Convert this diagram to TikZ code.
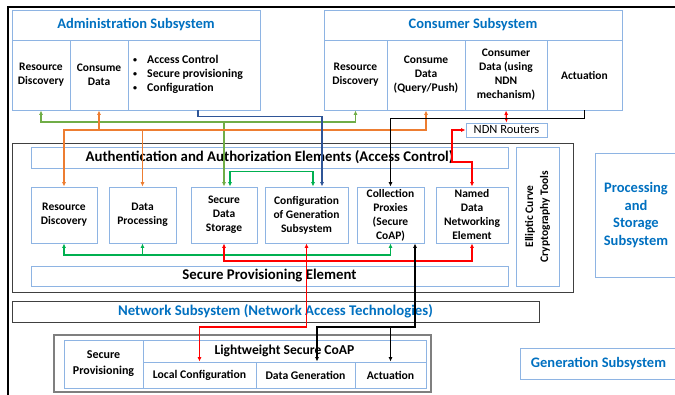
\documentclass[tikz,border=0pt]{standalone}
\usepackage{fontspec}
\setmainfont{Carlito}
\usetikzlibrary{arrows.meta,calc}
\definecolor{cellblue}{HTML}{8EB4E3}
\definecolor{titleblue}{HTML}{0070C0}
\definecolor{lgreen}{HTML}{70AD47}
\definecolor{dgreen}{HTML}{00B050}
\definecolor{orng}{HTML}{ED7D31}
\definecolor{dblue}{HTML}{2F5597}
\definecolor{rd}{HTML}{FF0000}
\definecolor{frameA}{HTML}{404040}
\definecolor{frameB}{HTML}{7F7F7F}
\newcommand\mybox[7]{%
  \pgfmathsetmacro\mbw{#4-#2}\pgfmathsetmacro\mbh{#5-#3}%
  \node[#6, minimum width=\mbw pt, minimum height=\mbh pt, inner sep=0pt] (#1) at ({(#2+#4)/2},{(#3+#5)/2}) {#7};}
\newcommand\smbul{\raisebox{0.15ex}{\fontsize{8}{8}\selectfont\textbullet}}
\tikzset{
  cell/.style={draw=cellblue, line width=0.9pt, align=center, font=\bfseries\fontsize{11.5}{14}\selectfont},
  ttl/.style={cell, text=titleblue, font=\bfseries\fontsize{14.5}{17.7}\selectfont},
  big/.style={font=\bfseries\fontsize{14.8}{16}\selectfont},
  small/.style={font=\bfseries\fontsize{11.7}{13}\selectfont},
  frm/.style={draw=frameA, line width=0.9pt},
  frmB/.style={draw=frameB, line width=1.2pt},
  con/.style={line width=1.3pt},
  both/.style={con, {Latex[length=4.5pt,width=4pt]}-{Latex[length=4.5pt,width=4pt]}},
  one/.style={con, -{Latex[length=4.5pt,width=4pt]}}
}
\begin{document}
\begin{tikzpicture}[x=1pt,y=-1pt]
\useasboundingbox (0,0) rectangle (675,394);
% outer frame
\draw[line width=2.5pt] (8,400) -- (8,7) -- (680,7);
% Administration
\mybox{adT}{12}{10}{260}{40}{ttl}{Administration Subsystem}
\mybox{adRD}{12}{40}{70}{110}{cell}{Resource\\Discovery}
\mybox{adCD}{70}{40}{128}{110}{cell}{Consume\\Data}
\mybox{adBul}{128}{40}{260}{110}{cell}{}
\node[anchor=west, inner sep=0pt, font=\bfseries\fontsize{11.8}{14}\selectfont] (adList) at (133,75)
  {\begin{tabular}{@{}l@{\hspace{10pt}}l@{}}\smbul & Access Control\\ \smbul & Secure provisioning\\ \smbul & Configuration\end{tabular}};
% Consumer
\mybox{csT}{324}{10}{622}{40}{ttl}{Consumer Subsystem}
\mybox{csRD}{324}{40}{387}{110}{cell}{Resource\\Discovery}
\mybox{csCD}{387}{40}{465}{110}{cell}{Consume\\Data\\(Query/Push)}
\mybox{csNDN}{465}{40}{547}{110}{cell}{Consumer\\Data (using\\NDN\\mechanism)}
\mybox{csAct}{547}{40}{622}{110}{cell}{Actuation}
\mybox{ndnR}{466}{123}{547}{137}{cell, font=\fontsize{12.5}{14}\selectfont}{NDN Routers}
% Processing main block
\mybox{main}{12}{143}{573}{292}{frm}{}
\mybox{auth}{31}{147}{508}{168}{cell, big}{Authentication and Authorization Elements (Access Control)}
\mybox{ecc}{516}{147}{559}{286}{cell}{}
\node[rotate=90, align=center, inner sep=0pt, font=\bfseries\fontsize{11.5}{15}\selectfont] (eccT) at (ecc.center) {Elliptic Curve\\Cryptography Tools};
\mybox{spe}{31}{266}{508}{286}{cell, big}{Secure Provisioning Element}
\mybox{rdE}{31}{187}{97}{243}{cell}{Resource\\Discovery}
\mybox{dp}{109}{187}{176}{243}{cell}{Data\\Processing}
\mybox{sds}{191}{187}{257}{243}{cell}{Secure\\Data\\Storage}
\mybox{conf}{265}{187}{348}{243}{cell}{Configuration\\of Generation\\Subsystem}
\mybox{colP}{357}{187}{424}{243}{cell}{Collection\\Proxies\\(Secure\\CoAP)}
\mybox{ndnE}{436}{187}{508}{243}{cell}{Named\\Data\\Networking\\Element}
% Network
\mybox{net}{12}{301}{539}{322}{frm, text=titleblue, big}{Network Subsystem (Network Access Technologies)}
% Lightweight
\mybox{lwO}{54}{335}{431}{392}{frmB}{}
\mybox{lwSP}{64}{340}{143}{388}{cell, font=\bfseries\fontsize{12}{16}\selectfont}{Secure\\Provisioning}
\mybox{lwT}{143}{340}{426}{362}{cell, font=\bfseries\fontsize{13.6}{15}\selectfont}{Lightweight Secure CoAP}
\mybox{lwLC}{143}{362}{256}{388}{cell, small}{Local Configuration}
\mybox{lwDG}{256}{362}{355}{388}{cell, small}{Data Generation}
\mybox{lwAc}{355}{362}{426}{388}{cell, small}{Actuation}
% right side subsystems
\mybox{pss}{595}{153}{677}{277}{ttl}{Processing\\and\\Storage\\Subsystem}
\mybox{gen}{520}{348}{677}{379}{ttl}{Generation Subsystem}
% helper coordinates
\coordinate (g1) at (200,122);
\coordinate (o1) at (200,130);
\coordinate (g3) at (200,255);
\coordinate (r1) at (300,261);
\coordinate (r2) at (250,327);
\coordinate (b2) at (350,327);
\coordinate (r4) at (452,162);
% connectors
\draw[both, lgreen] (adRD.south) |- (g1) -| (csRD.south);
\draw[one, lgreen] (sds.north |- g1) -- (sds.north);
\draw[both, orng] (rdE.north) |- (o1) -| (csCD.south);
\draw[one, orng] (adCD.south |- o1) -- (adCD.south);
\draw[one, orng] (dp.north |- o1) -- (dp.north);
\draw[one, dblue] ([xshift=4pt]adBul.south) -- ++(0,6) -| ([xshift=15.5pt]conf.north);
\draw[both, dgreen] ([xshift=6pt]sds.north) -- ++(0,-15) -| ([xshift=6.5pt]conf.north);
\draw[both, dgreen] (rdE.south) |- (g3) -| (colP.south);
\draw[one, dgreen] (dp.south |- g3) -- (dp.south);
\draw[both, rd] (sds.south) |- (r1) -| (ndnE.south);
\draw[both, rd] (conf.south) |- (r2) -| (lwLC.north);
\draw[both, rd] (csNDN.south) -- (ndnR.north);
\draw[both, rd] (ndnR.west) -| (r4) -| (ndnE.north);
\draw[one, black, line width=1.6pt] (csAct.south) -- ++(0,8) -| (colP.north);
\draw[both, black, line width=1.6pt] ([xshift=24.5pt]colP.south) |- (b2) -| ([xshift=11.5pt]lwDG.north);
\draw[one, black, line width=1.6pt] (lwAc.north |- b2) -- (lwAc.north);
\end{tikzpicture}
\end{document}
